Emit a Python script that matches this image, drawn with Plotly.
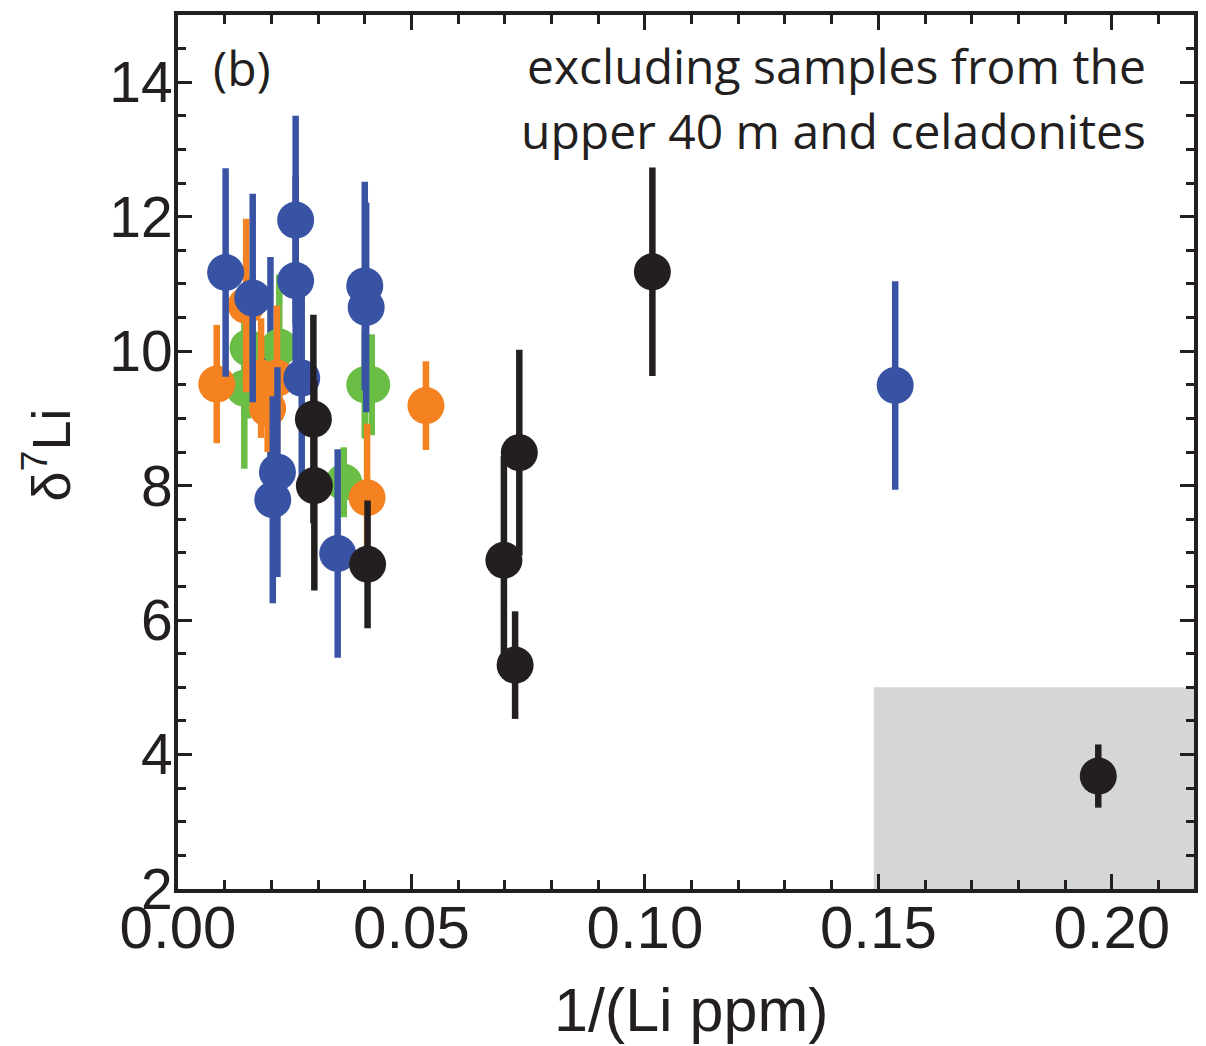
import plotly.graph_objects as go

# ---- data (1/(Li ppm), delta7Li, 2-sigma) ----
green_x = [0.0142, 0.0150, 0.0217, 0.0400, 0.0415, 0.0355]
green_y = [9.45, 10.05, 10.06, 9.50, 9.50, 8.05]
green_err = [1.20, 1.05, 1.08, 0.80, 0.75, 0.52]

orange_x = [0.0083, 0.0146, 0.0178, 0.0192, 0.0212, 0.0531, 0.0405]
orange_y = [9.51, 10.68, 9.60, 9.15, 9.60, 9.19, 7.82]
orange_err = [0.88, 1.29, 0.89, 0.65, 1.08, 0.66, 1.10]

blue_x = [0.0102, 0.0252, 0.0252, 0.0160, 0.0198, 0.0213, 0.0203, 0.0265, 0.0400, 0.0403, 0.0342, 0.1536]
blue_y = [11.17, 11.95, 11.05, 10.79, 9.85, 8.20, 7.79, 9.60, 10.97, 10.65, 6.99, 9.49]
blue_err = [1.55, 1.55, 1.55, 1.55, 1.55, 1.56, 1.54, 1.57, 1.55, 1.56, 1.55, 1.55]

black_x = [0.0290, 0.0292, 0.0406, 0.0698, 0.0731, 0.0722, 0.1016, 0.1971]
black_y = [8.99, 8.00, 6.83, 6.89, 8.49, 5.33, 11.18, 3.68]
black_err = [1.55, 1.56, 0.95, 1.55, 1.53, 0.80, 1.55, 0.47]

x_ticks = [0.00, 0.05, 0.10, 0.15, 0.20]
x_tick_labels = ["0.00", "0.05", "0.10", "0.15", "0.20"]
y_ticks = [2, 4, 6, 8, 10, 12, 14]

shade_x = [0.149, 0.2176]
shade_y = [2, 5]

GREEN, ORANGE, BLUE, BLACK = "#6ABD45", "#F58220", "#3953A4", "#231F20"

series = [
    (green_x, green_y, green_err, GREEN, 1),
    (orange_x, orange_y, orange_err, ORANGE, 2),
    (blue_x, blue_y, blue_err, BLUE, 3),
    (black_x, black_y, black_err, BLACK, 4),
]
# points lying underneath the others in the original drawing
behind = {(BLUE, 4)}

fig = go.Figure()
for xs, ys, es, col, z in series:
    for i in range(len(xs)):
        fig.add_trace(go.Scatter(
            x=[xs[i]], y=[ys[i]], mode="markers",
            marker=dict(size=37, color=col, line=dict(width=0)),
            error_y=dict(type="data", array=[es[i]], visible=True, color=col, thickness=6.5, width=0),
            showlegend=False, zorder=(0 if (col, i) in behind else z),
        ))

fig.add_shape(type="rect", xref="x", yref="y", x0=shade_x[0], x1=shade_x[1],
              y0=shade_y[0], y1=shade_y[1], fillcolor="#D4D6D8", line=dict(width=0), layer="below")

fig.update_layout(
    width=1190, height=1038,
    margin=dict(l=170, r=0, t=7, b=157),
    plot_bgcolor="white", paper_bgcolor="white",
    font=dict(family="Liberation Sans, Arial, sans-serif", color=BLACK),
)
fig.update_xaxes(
    range=[0, 0.2176], tickvals=x_ticks, ticktext=x_tick_labels,
    showgrid=False, zeroline=False,
    showline=True, linecolor=BLACK, linewidth=4, mirror="allticks",
    ticks="inside", ticklen=15, tickwidth=3, tickcolor=BLACK,
    tickfont=dict(size=60, family="Liberation Sans, Arial, sans-serif", color=BLACK),
    ticklabelstandoff=-17,
    minor=dict(dtick=0.01, ticks="inside", ticklen=9, tickwidth=2.5, tickcolor=BLACK, showgrid=False),
)
fig.update_yaxes(
    range=[2, 15], tickvals=y_ticks,
    showgrid=False, zeroline=False,
    showline=True, linecolor=BLACK, linewidth=4, mirror="allticks",
    ticks="inside", ticklen=14, tickwidth=3, tickcolor=BLACK,
    tickfont=dict(size=57, family="Liberation Sans, Arial, sans-serif", color=BLACK),
    ticklabelstandoff=-10,
    minor=dict(dtick=0.5, ticks="inside", ticklen=8, tickwidth=2.5, tickcolor=BLACK, showgrid=False),
)

LABELFONT = dict(size=48, family="Open Sans, sans-serif", color=BLACK)
fig.add_annotation(text="(b)", xref="paper", yref="paper", x=0.0627, y=0.940,
                   xanchor="center", yanchor="middle", showarrow=False, font=LABELFONT)
fig.add_annotation(text="excluding samples from the", xref="paper", yref="paper", x=0.955, y=0.942,
                   xanchor="right", yanchor="middle", showarrow=False, font=LABELFONT)
fig.add_annotation(text="upper 40 m and celadonites", xref="paper", yref="paper", x=0.955, y=0.868,
                   xanchor="right", yanchor="middle", showarrow=False, font=LABELFONT)
fig.add_annotation(text="1/(Li ppm)", xref="paper", yref="paper", x=0.505, y=-0.1384,
                   xanchor="center", yanchor="middle", showarrow=False,
                   font=dict(size=61, family="Liberation Sans, Arial, sans-serif", color=BLACK))
fig.add_annotation(text="δ<sup>7</sup>Li", xref="paper", yref="paper", x=-0.129, y=0.497,
                   xanchor="center", yanchor="middle", textangle=-90, showarrow=False,
                   font=dict(size=54, family="Liberation Sans, Arial, sans-serif", color=BLACK))

fig.write_html("out.html")
